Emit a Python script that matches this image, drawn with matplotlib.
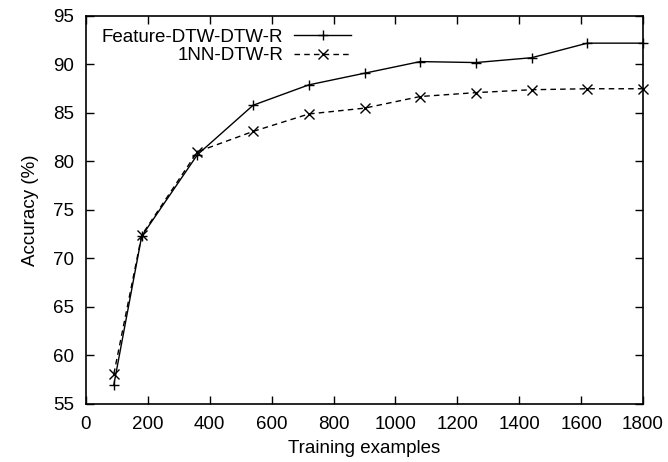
import matplotlib
matplotlib.use('Agg')
import matplotlib.pyplot as plt

plt.rcParams['font.family'] = ['Liberation Sans', 'DejaVu Sans']
plt.rcParams['font.size'] = 13.5

# data
train_sizes = [90, 180, 360, 540, 720, 900, 1080, 1260, 1440, 1620, 1800]
feature_acc = [57.0, 72.3, 80.7, 85.8, 87.9, 89.1, 90.3, 90.2, 90.7, 92.2, 92.2]
nn_acc = [58.1, 72.4, 81.0, 83.1, 84.9, 85.5, 86.7, 87.1, 87.4, 87.5, 87.5]
labels = ['Feature-DTW-DTW-R', '1NN-DTW-R']

fig = plt.figure(figsize=(6.68, 4.62), dpi=100)
ax = fig.add_axes([86/668, 1 - 404/462, (643-86)/668, (404-16)/462])

ax.plot(train_sizes, feature_acc, color='black', lw=1.0, marker='+', ms=7, mew=1.0,
        label=labels[0], clip_on=False)
ax.plot(train_sizes, nn_acc, color='black', lw=1.0, ls=(0, (4, 3)), marker='x', ms=7, mew=1.0,
        label=labels[1], clip_on=False)

ax.set_xlim(0, 1800)
ax.set_ylim(55, 95)
ax.set_xticks(range(0, 1801, 200))
ax.set_yticks(range(55, 96, 5))
ax.tick_params(direction='in', top=True, right=True, length=6, width=1, pad=8.5)
for s in ax.spines.values():
    s.set_linewidth(1.2)

ax.set_xlabel('Training examples', labelpad=5)
ax.set_ylabel('Accuracy (%)', labelpad=10)

ax.legend(loc='upper right', bbox_to_anchor=(360/668, 1 - 19/462), bbox_transform=fig.transFigure,
          frameon=False, markerfirst=False, handlelength=3.0, handletextpad=0.6,
          borderpad=0, labelspacing=0.1)

fig.savefig('out.png', dpi=100)
